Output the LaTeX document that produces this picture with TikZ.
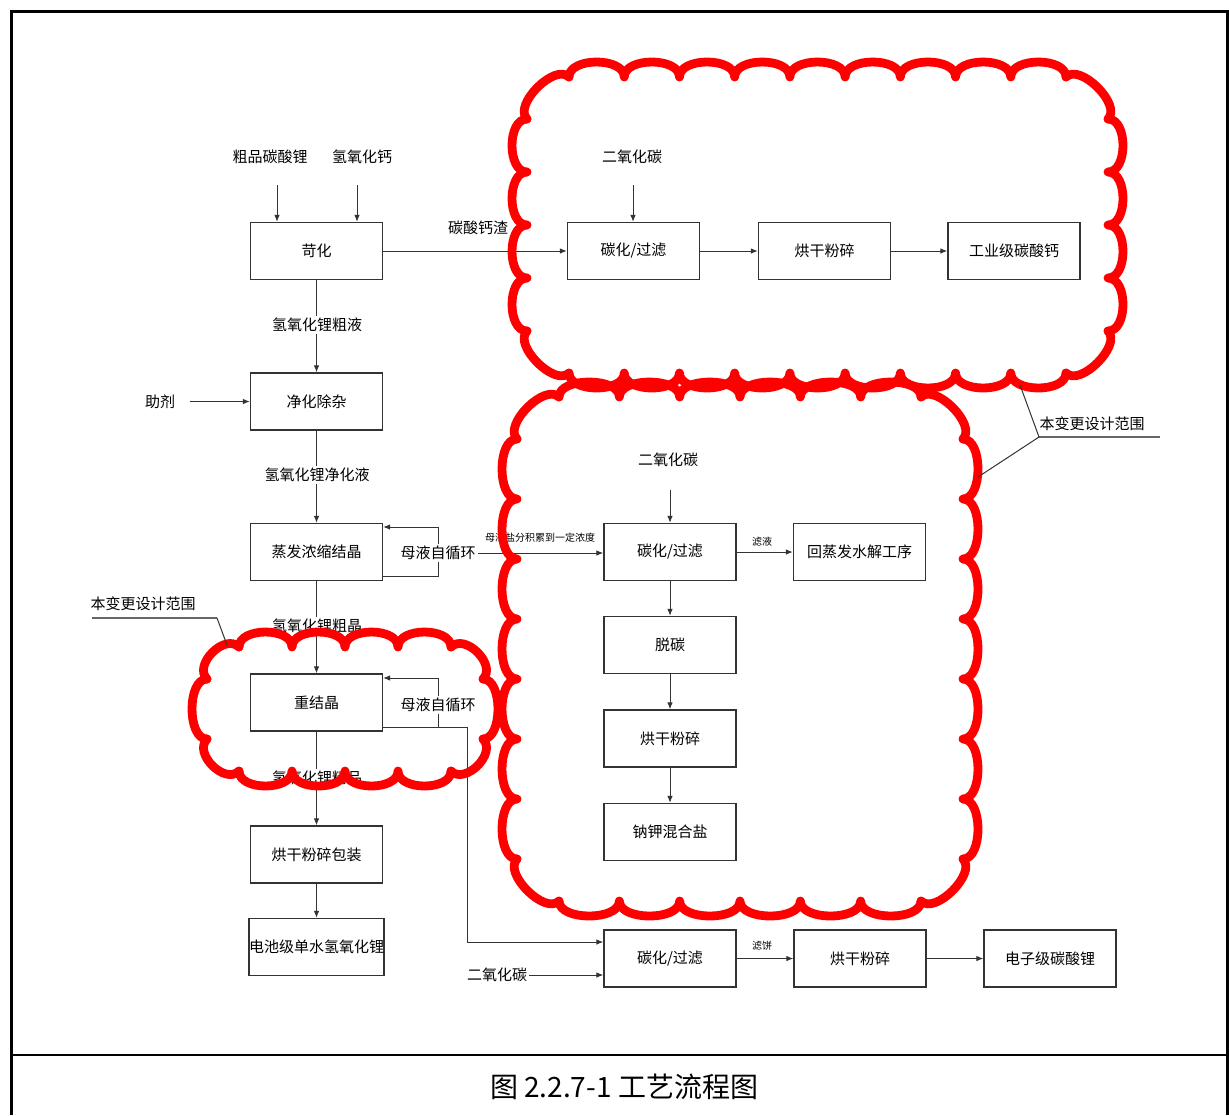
\documentclass[tikz,border=0pt]{standalone}
\usepackage{fontspec}
\setmainfont{Noto Sans CJK SC}
\usetikzlibrary{arrows.meta}
\def\cloudseg{57}
\def\cloudh{20}
\newcommand\mycloudedge[4]{%
 \pgfmathsetmacro\clen{veclen((#3)-(#1),(#4)-(#2))}%
 \pgfmathtruncatemacro\cn{max(1,round(\clen/\cloudseg))}%
 \pgfmathsetmacro\cvx{((#4)-(#2))/\clen*\cloudh}%
 \pgfmathsetmacro\cvy{-((#3)-(#1))/\clen*\cloudh}%
 \draw[revcloud] (#1,#2) \foreach \i in {1,...,\cn}{ .. controls +(\cvx,\cvy) and +(\cvx,\cvy) .. ({(#1)+((#3)-(#1))*\i/\cn},{(#2)+((#4)-(#2))*\i/\cn}) };%
}
\newcommand\mycloud[5]{% x1 y1 x2 y2 cut
 \pgfmathsetmacro\cxa{#1}\pgfmathsetmacro\cxb{#1+#5}%
 \pgfmathsetmacro\cxc{#3-#5}\pgfmathsetmacro\cxd{#3}%
 \pgfmathsetmacro\cya{#2}\pgfmathsetmacro\cyb{#2+#5}%
 \pgfmathsetmacro\cyc{#4-#5}\pgfmathsetmacro\cyd{#4}%
 \mycloudedge{\cxb}{\cya}{\cxc}{\cya}%
 \mycloudedge{\cxc}{\cya}{\cxd}{\cyb}%
 \mycloudedge{\cxd}{\cyb}{\cxd}{\cyc}%
 \mycloudedge{\cxd}{\cyc}{\cxc}{\cyd}%
 \mycloudedge{\cxc}{\cyd}{\cxb}{\cyd}%
 \mycloudedge{\cxb}{\cyd}{\cxa}{\cyc}%
 \mycloudedge{\cxa}{\cyc}{\cxa}{\cyb}%
 \mycloudedge{\cxa}{\cyb}{\cxb}{\cya}%
}
\begin{document}
\begin{tikzpicture}[x=0.5pt,y=-0.5pt,
 box/.style={draw=black!80,line width=0.7pt,minimum width=66pt,minimum height=28.5pt,inner sep=0pt,font=\fontsize{7.5}{9}\selectfont},
 lbl/.style={font=\fontsize{7.5}{9}\selectfont,inner sep=1pt},
 wlbl/.style={lbl,fill=white},
 tiny/.style={font=\fontsize{5}{6}\selectfont,inner sep=0.5pt},
 arr/.style={draw=black!80,line width=0.5pt,-{Latex[length=3.5pt,width=2.8pt]}},
 ln/.style={draw=black!80,line width=0.5pt},
 revcloud/.style={draw=red,line width=4.4pt,line cap=round,line join=round},
]
\useasboundingbox (0,0) rectangle (1229,1115);
% frame
\draw[line width=1.5pt] (11,1115) -- (11,11) -- (1227,11) -- (1227,1115);
\draw[line width=0.6pt] (11,1055) -- (1227,1055);
\node[font=\fontsize{14}{16}\selectfont] (cap) at (624,1087) {图 2.2.7-1 工艺流程图};

% boxes
\node[box] (kh) at (316.5,251) {苛化};
\node[box] (tg1) at (633.5,251) {碳化/过滤};
\node[box] (hg1) at (824.5,251) {烘干粉碎};
\node[box] (gy) at (1014,251) {工业级碳酸钙};
\node[box] (jh) at (316.5,401.5) {净化除杂};
\node[box] (zf) at (316.5,552) {蒸发浓缩结晶};
\node[box] (cj) at (316.5,702.5) {重结晶};
\node[box] (hb) at (316.5,854.5) {烘干粉碎包装};
\node[box] (dc) at (316.5,947) {电池级单水氢氧化锂};
\node[box] (tg2) at (670,552) {碳化/过滤};
\node[box] (hz) at (859.5,552) {回蒸发水解工序};
\node[box] (tt) at (670,645) {脱碳};
\node[box] (hg2) at (670,738.5) {烘干粉碎};
\node[box] (nk) at (670,832) {钠钾混合盐};
\node[box] (tg3) at (670,958.5) {碳化/过滤};
\node[box] (hg3) at (860,958.5) {烘干粉碎};
\node[box] (dz) at (1050,958.5) {电子级碳酸锂};

% top inputs
\node[lbl] (l1) at (270,157) {粗品碳酸锂};
\node[lbl] (l2) at (362,157) {氢氧化钙};
\coordinate (a1) at (277,185); \draw[arr] (a1) -- (a1 |- kh.north);
\coordinate (a2) at (357,185); \draw[arr] (a2) -- (a2 |- kh.north);
\draw[arr] (kh.east) -- (tg1.west);
\node[lbl] (l3) at (478,228) {碳酸钙渣};
\node[lbl] (co1) at (632,157) {二氧化碳};
\coordinate (a3) at (633,185); \draw[arr] (a3) -- (a3 |- tg1.north);
\draw[arr] (tg1.east) -- (hg1.west);
\draw[arr] (hg1.east) -- (gy.west);

% main column
\draw[arr] (kh.south) -- (jh.north);
\node[wlbl] (l4) at (317,325) {氢氧化锂粗液};
\node[lbl] (zj) at (160,402) {助剂};
\coordinate (a4) at (190,401.5); \draw[arr] (a4) -- (jh.west);
\draw[arr] (jh.south) -- (zf.north);
\node[wlbl] (l5) at (317,475) {氢氧化锂净化液};

% loop 1
\coordinate (r1) at (438,527); \coordinate (r1b) at (438,576);
\draw[ln] (zf.east |- r1b) -- (r1b) -- (r1);
\draw[arr] (r1) -- (zf.east |- r1);
\node[wlbl] (mx1) at (438,553) {母液自循环};
\draw[arr] (mx1.east) -- (mx1.east -| tg2.west);
\node[tiny] (l6) at (540,538) {母液盐分积累到一定浓度};

\draw[arr] (zf.south) -- (cj.north);
\node[wlbl] (l7) at (317,626) {氢氧化锂粗晶};

% loop 2
\coordinate (r2) at (438,678); \coordinate (r2d) at (438,727);
\coordinate (r2b) at (467,727); \coordinate (r2c) at (467,942);
\draw[arr] (cj.east |- r2b) -- (r2b) -- (r2c) -- (r2c -| tg3.west);
\draw[ln] (r2d) -- (r2);
\draw[arr] (r2) -- (r2 -| cj.east);
\node[wlbl] (mx2) at (438,705) {母液自循环};

\draw[arr] (cj.south) -- (hb.north);
\node[wlbl] (l8) at (317,778) {氢氧化锂精品};
\draw[arr] (hb.south) -- (dc.north);

% middle column
\node[lbl] (co2) at (668,460) {二氧化碳};
\coordinate (a5) at (670,490); \draw[arr] (a5) -- (tg2.north);
\draw[arr] (tg2.east) -- (hz.west);
\node[tiny] (l9) at (762,542) {滤液};
\draw[arr] (tg2.south) -- (tt.north);
\draw[arr] (tt.south) -- (hg2.north);
\draw[arr] (hg2.south) -- (nk.north);

% bottom row
\node[lbl] (co3) at (497,975) {二氧化碳};
\draw[arr] (co3.east) -- (co3.east -| tg3.west);
\draw[arr] (tg3.east) -- (hg3.west);
\node[tiny] (l10) at (762,946) {滤饼};
\draw[arr] (hg3.east) -- (dz.west);

% clouds
\mycloud{527}{77}{1108}{373}{42}
\mycloud{517}{397}{963}{901}{42}
\mycloud{207}{647}{483}{771}{32}

% callouts
\node[lbl] (cl1) at (1092,424) {本变更设计范围};
\coordinate (c1a) at (1039,437); \coordinate (c1b) at (1160,437);
\coordinate (c1c) at (1020,385); \coordinate (c1d) at (978,477);
\draw[black!60,line width=1.4pt] (c1a) -- (c1b);
\draw[ln] (c1c) -- (c1a) -- (c1d);
\node[lbl] (cl2) at (143,604) {本变更设计范围};
\coordinate (c2a) at (92,618); \coordinate (c2b) at (217,618); \coordinate (c2c) at (227,645);
\draw[black!60,line width=1.2pt] (c2a) -- (c2b);
\draw[ln] (c2b) -- (c2c);
\end{tikzpicture}
\end{document}
